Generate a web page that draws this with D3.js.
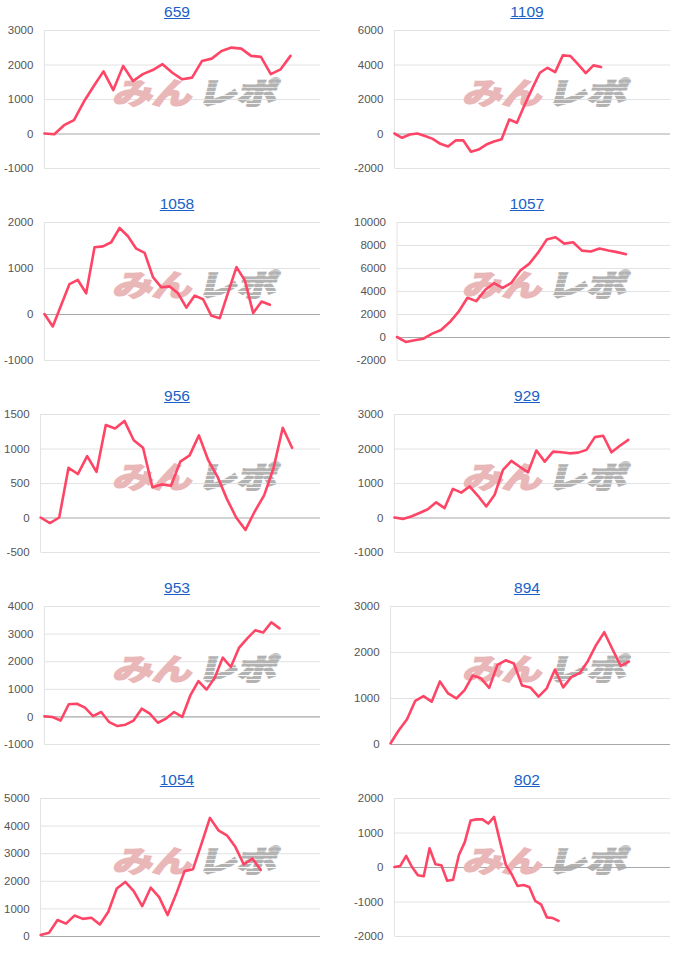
<!DOCTYPE html>
<html>
<head>
<meta charset="utf-8">
<title></title>
<script src="https://d3js.org/d3.v7.min.js"></script>
<style>
  html, body { margin: 0; padding: 0; background: #fff; }
  #chart { width: 700px; height: 960px; }
</style>
</head>
<body>
<div id="chart"></div>
<script>
// machine numbers shown above each panel
const chartIds = ["659", "1109", "1058", "1057", "956", "929", "953", "894", "1054", "802"];

// y tick values per panel
const yTicks = [
  [-1000, 0, 1000, 2000, 3000],
  [-2000, 0, 2000, 4000, 6000],
  [-1000, 0, 1000, 2000],
  [-2000, 0, 2000, 4000, 6000, 8000, 10000],
  [-500, 0, 500, 1000, 1500],
  [-1000, 0, 1000, 2000, 3000],
  [-1000, 0, 1000, 2000, 3000, 4000],
  [0, 1000, 2000, 3000],
  [0, 1000, 2000, 3000, 4000, 5000],
  [-2000, -1000, 0, 1000, 2000]
];

// x axis length (number of steps) per panel
const xSlots = [28, 36, 33, 31, 30, 33, 34, 34, 33, 47];

// series values
const s659 = [0, -20, 240, 390, 920, 1370, 1800, 1260, 1960, 1520, 1720, 1840, 2010, 1760, 1570, 1620, 2100, 2170, 2390, 2490, 2460, 2250, 2220, 1720, 1860, 2250];
const s1109 = [0, -250, -60, 0, -150, -310, -600, -750, -400, -400, -1060, -930, -640, -460, -330, 810, 620, 1650, 2600, 3520, 3810, 3560, 4530, 4490, 4010, 3500, 3950, 3850];
const s1058 = [0, -270, 190, 650, 740, 450, 1450, 1470, 1560, 1870, 1690, 1420, 1330, 800, 580, 600, 450, 140, 400, 320, -40, -90, 470, 1020, 730, 20, 270, 200];
const s1057 = [0, -430, -290, -150, 290, 610, 1300, 2200, 3410, 3120, 4080, 4680, 4280, 4710, 5780, 6360, 7310, 8470, 8670, 8120, 8240, 7510, 7430, 7690, 7520, 7380, 7200];
const s956 = [0, -80, 0, 720, 630, 890, 660, 1340, 1290, 1400, 1120, 1010, 440, 480, 460, 810, 900, 1190, 830, 590, 270, 0, -180, 90, 320, 710, 1300, 1010];
const s929 = [0, -40, 30, 130, 240, 440, 270, 830, 720, 900, 630, 320, 660, 1380, 1640, 1470, 1310, 1940, 1620, 1910, 1890, 1860, 1880, 1960, 2330, 2370, 1890, 2080, 2250];
const s953 = [0, -20, -150, 440, 460, 320, 10, 160, -210, -350, -300, -150, 280, 100, -230, -80, 160, -20, 760, 1280, 970, 1390, 2130, 1790, 2480, 2820, 3120, 3040, 3410, 3190];
const s894 = [15, 300, 540, 940, 1040, 920, 1360, 1100, 990, 1170, 1490, 1430, 1220, 1720, 1820, 1750, 1270, 1230, 1030, 1210, 1620, 1230, 1460, 1540, 1800, 2150, 2430, 2060, 1700, 1790];
const s1054 = [40, 120, 580, 450, 740, 620, 660, 420, 880, 1720, 1960, 1630, 1080, 1750, 1410, 760, 1510, 2350, 2420, 3340, 4280, 3830, 3650, 3230, 2590, 2810, 2390];
const s802 = [0, 30, 320, 0, -240, -270, 540, 80, 50, -400, -370, 350, 720, 1350, 1380, 1380, 1260, 1450, 750, 60, -210, -550, -520, -580, -980, -1080, -1460, -1480, -1560];

const seriesList = [s659, s1109, s1058, s1057, s956, s929, s953, s894, s1054, s802];

const width = 700, height = 960;
const panelW = 350, panelH = 192;
const plotTop = 30, plotBottom = 168, plotRight = 320;
const labelFont = "11.5px 'Liberation Sans', Arial, sans-serif";

const svg = d3.select("#chart")
  .append("svg")
  .attr("width", width)
  .attr("height", height);

const defs = svg.append("defs");
// striped gray fill for the watermark's second half
const stripes = defs.append("pattern")
  .attr("id", "stripes")
  .attr("patternUnits", "userSpaceOnUse")
  .attr("width", 8)
  .attr("height", 5);
stripes.append("rect").attr("width", 8).attr("height", 4).attr("fill", "#b2b2b2");

const line = d3.line()
  .x(d => d.x)
  .y(d => d.y);

chartIds.forEach((id, i) => {
  const col = i % 2, row = Math.floor(i / 2);
  const g = svg.append("g")
    .attr("transform", `translate(${col * panelW},${row * panelH})`);

  const ticks = yTicks[i];
  const yScale = d3.scaleLinear()
    .domain([ticks[0], ticks[ticks.length - 1]])
    .range([plotBottom, plotTop]);

  // measure the widest tick label so the plot starts right after it
  let maxW = 0;
  ticks.forEach(t => {
    const tmp = g.append("text").style("font", labelFont).text(t);
    maxW = Math.max(maxW, tmp.node().getComputedTextLength());
    tmp.remove();
  });
  const axisX = 4 + maxW + 11;

  const xScale = d3.scaleLinear()
    .domain([0, xSlots[i]])
    .range([axisX, plotRight]);

  // gridlines + labels
  const axis = g.append("g")
    .attr("transform", `translate(${axisX},0)`)
    .call(d3.axisLeft(yScale)
      .tickValues(ticks)
      .tickFormat(d => d)
      .tickSize(-(plotRight - axisX))
      .tickPadding(11));
  axis.select(".domain").remove();
  axis.selectAll(".tick line")
    .attr("stroke", d => d === 0 ? "#a8a8a8" : "#e2e2e2")
    .attr("stroke-width", d => d === 0 ? 1.2 : 1);
  axis.selectAll(".tick text")
    .style("font", labelFont)
    .attr("fill", "#555");

  // vertical axis line
  g.append("line")
    .attr("x1", axisX).attr("x2", axisX)
    .attr("y1", plotTop).attr("y2", plotBottom)
    .attr("stroke", "#e2e2e2");

  // watermark
  const wm = g.append("g")
    .attr("transform", `translate(112,104) skewX(-14) scale(1.1,0.82)`);
  wm.append("text")
    .attr("x", 0)
    .attr("y", 0)
    .style("font-family", "'Noto Sans CJK JP', sans-serif")
    .style("font-weight", 700)
    .style("font-size", "36px")
    .attr("fill", "#eab7b8")
    .attr("stroke", "#eab7b8")
    .attr("stroke-width", 2.5)
    .text("みん");
  wm.append("text")
    .attr("x", 77)
    .attr("y", 0)
    .style("font-family", "'Noto Sans CJK JP', sans-serif")
    .style("font-weight", 700)
    .style("font-size", "36px")
    .attr("fill", "url(#stripes)")
    .attr("stroke", "url(#stripes)")
    .attr("stroke-width", 3)
    .text("レポ");

  // series line
  const pts = seriesList[i].map((v, k) => ({ x: xScale(k), y: yScale(v) }));
  g.append("path")
    .datum(pts)
    .attr("fill", "none")
    .attr("stroke", "#ff4566")
    .attr("stroke-width", 2.6)
    .attr("stroke-linejoin", "round")
    .attr("stroke-linecap", "round")
    .attr("d", line);

  // title (link style)
  const title = g.append("text")
    .attr("x", 177)
    .attr("y", 16.5)
    .attr("text-anchor", "middle")
    .style("font", "15.5px 'Liberation Sans', Arial, sans-serif")
    .attr("fill", "#1a5fc8")
    .text(id);
  const tw = title.node().getComputedTextLength();
  g.append("line")
    .attr("x1", 177 - tw / 2).attr("x2", 177 + tw / 2)
    .attr("y1", 18.5).attr("y2", 18.5)
    .attr("stroke", "#1a5fc8")
    .attr("stroke-width", 1);
});
</script>
</body>
</html>
